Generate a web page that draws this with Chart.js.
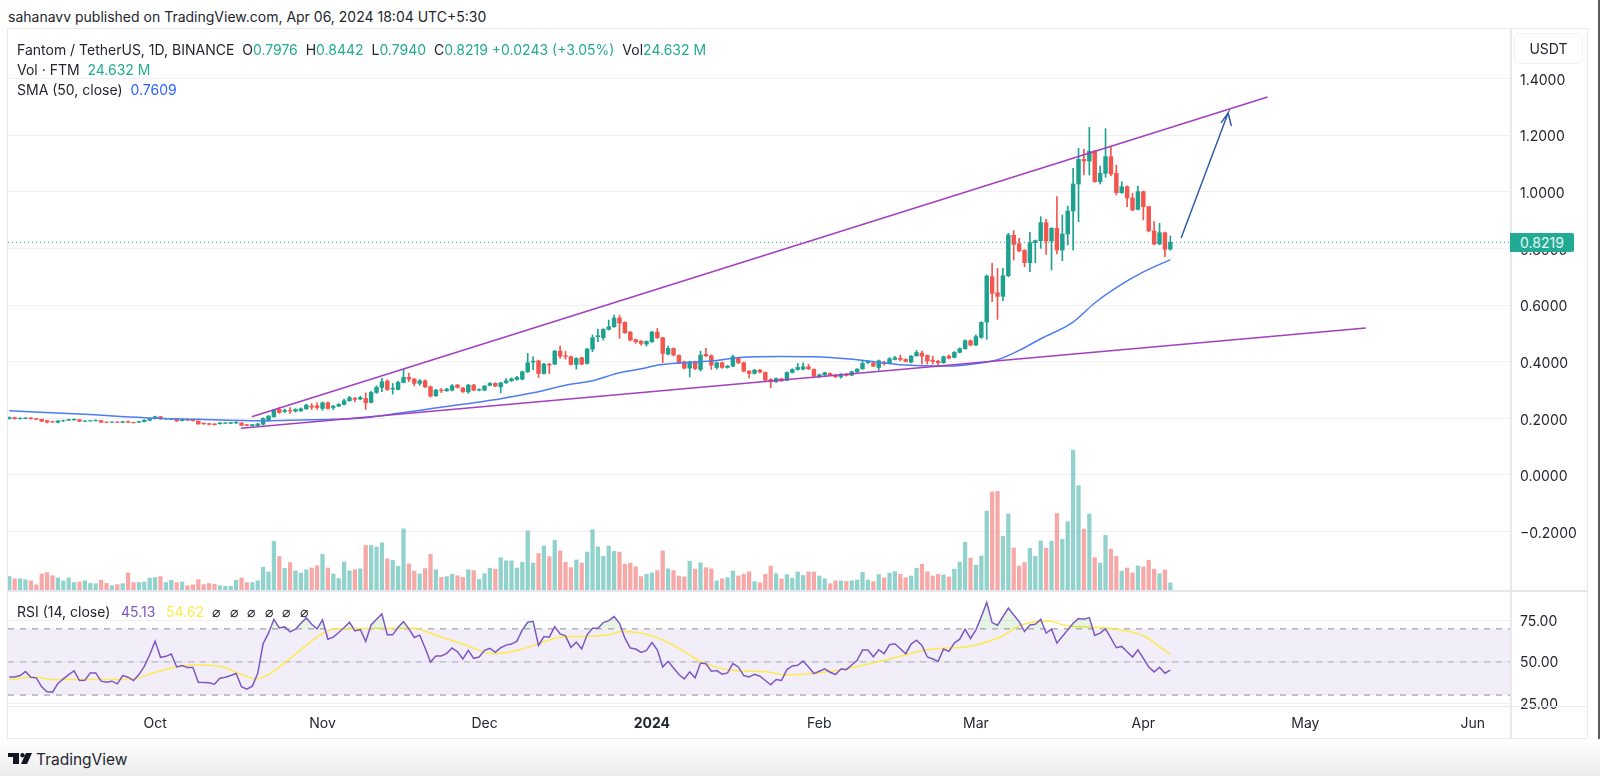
<!DOCTYPE html>
<html>
<head>
<meta charset="utf-8">
<title>Fantom / TetherUS</title>
<script src="https://cdn.jsdelivr.net/npm/chart.js@4/dist/chart.umd.min.js"></script>
<style>
    html, body { margin: 0; padding: 0; background: #fff; overflow: hidden; }
    body { width: 1600px; height: 776px; position: relative; font-family: Inter, sans-serif; color: #23262f; filter: blur(.35px); }
    canvas { position: absolute; left: 8px; }
    #priceChart { top: 28px; }
    #rsiChart { top: 590px; }
    .txt { position: absolute; white-space: nowrap; font-size: 14px; line-height: 20px; }
    .line { position: absolute; background: #e9e9ec; }
    .up { color: #22ab94; }
    #footer { position: absolute; left: 0; top: 739px; width: 1600px; height: 37px; background: linear-gradient(#fff, #ececec); }
    #tag { position: absolute; left: 1510px; top: 233px; width: 64px; height: 19px; line-height: 19px; background: #22ab94; color: #e8f7f4; font-size: 14px; text-align: center; border-radius: 0 2px 2px 0; }
    #usdt { position: absolute; left: 1514px; top: 33px; width: 67px; height: 29px; line-height: 29px; border: 1px solid #f0f0f3; border-radius: 6px; text-align: center; font-size: 14px; }
</style>
</head>
<body>
<div class="txt" style="left:8px;top:7px;">sahanavv published on TradingView.com, Apr 06, 2024 18:04 UTC+5:30</div>
<canvas id="priceChart" width="1579" height="562"></canvas>
<canvas id="rsiChart" width="1579" height="148"></canvas>

<div class="line" style="left:7px;top:28px;width:1580px;height:1px;"></div>
<div class="line" style="left:7px;top:28px;width:1px;height:710px;"></div>
<div class="line" style="left:1587px;top:28px;width:1px;height:710px;"></div>
<div class="line" style="left:7px;top:738px;width:1580px;height:1px;"></div>
<div class="line" style="left:1510px;top:28px;width:2px;height:710px;"></div>
<div class="line" style="left:8px;top:590px;width:1579px;height:2px;background:#e3e6ee;"></div>
<div class="line" style="left:8px;top:706px;width:1579px;height:1px;"></div>
<div class="line" style="left:1598px;top:0;width:2px;height:776px;background:#5a5a5a;"></div>

<div class="txt" style="left:17px;top:40px;">Fantom / TetherUS, 1D, BINANCE &nbsp;O<span class="up">0.7976</span> &nbsp;H<span class="up">0.8442</span> &nbsp;L<span class="up">0.7940</span> &nbsp;C<span class="up">0.8219</span> <span class="up">+0.0243 (+3.05%)</span> &nbsp;Vol<span class="up">24.632 M</span></div>
<div class="txt" style="left:17px;top:60px;">Vol · FTM &nbsp;<span class="up">24.632 M</span></div>
<div class="txt" style="left:17px;top:80px;">SMA (50, close) &nbsp;<span style="color:#2962ff;">0.7609</span></div>
<div class="txt" style="left:17px;top:602px;">RSI (14, close)</div>
<div class="txt" style="left:121px;top:602px;color:#7e57c2;">45.13</div>
<div class="txt" style="left:166px;top:602px;color:#ffe94f;">54.62</div>
<div class="txt" style="left:212px;top:602px;letter-spacing:9.6px;">⌀⌀⌀⌀⌀⌀</div>

<div id="usdt">USDT</div>
<div id="tag">0.8219</div>

<div id="footer"></div>
<svg style="position:absolute;left:8px;top:753px;" width="24" height="12" viewBox="0 0 24 12">
    <path d="M0 0H11V11H5V4H0Z" fill="#131722"/>
    <circle cx="14.5" cy="2.2" r="2.2" fill="#131722"/>
    <path d="M18 0H24L19 11H13Z" fill="#131722"/>
</svg>
<div class="txt" style="left:36px;top:750px;font-size:15.5px;">TradingView</div>

<script>
// Daily candles, index 0 is 2023-09-04, index 215 is 2024-04-06
const opens = [
    .1988,.2022,.1985,.1995,.2010,.1988,.1965,.1917,.1882,.1859,
    .1906,.1929,.1941,.1953,.1894,.1906,.1917,.1917,.1870,.1859,
    .1870,.1859,.1882,.1859,.1859,.1882,.1929,.1988,.2057,.1976,
    .1965,.1976,.1917,.1953,.1953,.1906,.1823,.1811,.1800,.1811,
    .1823,.1823,.1835,.1835,.1776,.1740,.1752,.1793,.1911,.2053,
    .2313,.2242,.2277,.2254,.2265,.2336,.243,.2442,.2348,.2549,
    .2383,.243,.249,.262,.2702,.2679,.2702,.256,.2914,.3091,
    .3316,.3032,.302,.3268,.3445,.3386,.3233,.3327,.3115,.2797,
    .2997,.2973,.2997,.3174,.3068,.2938,.3174,.2997,.2997,.3162,
    .3233,.3112,.3254,.3324,.3372,.3383,.3643,.3985,.4032,.3584,
    .3914,.3914,.4375,.421,.4174,.3903,.4139,.3938,.4445,.4882,
    .4847,.5142,.5236,.5543,.539,.5047,.4776,.4729,.4622,.4705,
    .5047,.4847,.4268,.4469,.4221,.3997,.3773,.3997,.3726,.4257,
    .421,.3796,.3962,.3796,.3844,.4139,.3962,.3667,.3584,.3702,
    .3619,.3372,.3289,.3395,.3348,.3619,.3726,.3737,.382,.3726,
    .349,.3537,.3584,.3525,.3466,.356,.3525,.3643,.3749,.3962,
    .3962,.3796,.3985,.3938,.408,.4127,.408,.3985,.421,.4304,
    .4221,.4056,.4021,.3962,.4198,.4153,.433,.4459,.4742,.4589,
    .486,.5402,.7004,.6438,.6309,.7039,.8465,.817,.7935,.7499,
    .8206,.8276,.8912,.8264,.8712,.7946,.8512,.9325,1.0279,1.1151,
    1.1092,1.1445,1.0361,1.0656,1.1245,1.0656,.9973,1.0185,.9784,.9384,
    1.0008,.9478,.8618,.8158,.8559,.7976
];
const closes = [
    .2022,.1985,.2000,.2010,.1988,.1965,.1894,.1859,.1870,.1906,
    .1917,.1953,.1965,.1894,.1906,.1917,.1929,.1859,.1859,.1870,
    .1859,.1882,.1859,.1847,.1882,.1929,.1988,.2057,.1976,.1988,
    .1976,.1906,.1953,.1929,.1917,.1800,.1800,.1788,.1776,.1835,
    .1835,.1847,.1859,.1752,.1752,.1776,.1800,.1994,.2077,.2289,
    .2206,.2277,.2254,.2313,.2336,.2466,.2395,.2383,.2549,.2348,
    .243,.249,.262,.2726,.2667,.2737,.2549,.2914,.3091,.3292,
    .302,.3056,.3268,.3445,.3386,.3233,.3327,.3115,.2785,.2997,
    .2973,.3032,.315,.3091,.2938,.3174,.2997,.302,.3139,.3233,
    .3139,.3254,.3324,.3395,.3442,.3643,.3962,.4021,.3584,.3914,
    .3879,.4375,.4198,.4186,.3903,.4115,.3914,.4445,.4847,.4917,
    .5142,.5236,.5543,.5366,.5024,.4764,.4705,.4646,.4717,.5047,
    .4847,.4292,.4469,.4233,.3962,.3773,.3997,.3761,.4233,.421,
    .3879,.3962,.3796,.3844,.4174,.3962,.3667,.3584,.3702,.3631,
    .3348,.3289,.3407,.3324,.3619,.3726,.3796,.382,.3749,.349,
    .3537,.3608,.3525,.3466,.356,.3513,.3643,.3737,.3938,.4009,
    .3844,.4032,.3938,.4103,.4139,.408,.4009,.4198,.4327,.4198,
    .4032,.4009,.3962,.4174,.4127,.433,.4459,.4742,.4589,.4884,
    .539,.7027,.6415,.6309,.7039,.8476,.8147,.7911,.7499,.8206,
    .8276,.8912,.8264,.8712,.7946,.8512,.9325,1.0279,1.1151,1.1092,
    1.1433,1.0361,1.0656,1.1245,1.0632,.9973,1.0185,.9784,.936,1.0008,
    .9478,.8618,.8158,.8559,.797,.8219
];
const highs = [
    .205,.204,.202,.203,.203,.199,.197,.192,.190,.192,
    .194,.197,.198,.196,.192,.193,.195,.192,.187,.188,
    .188,.190,.191,.186,.190,.195,.201,.208,.207,.200,
    .199,.198,.197,.196,.196,.191,.184,.182,.181,.185,
    .185,.186,.188,.185,.179,.178,.182,.202,.210,.232,
    .2383,.233,.238,.234,.237,.25,.252,.255,.258,.258,
    .246,.252,.268,.278,.274,.278,.29,.295,.315,.341,
    .336,.323,.331,.373,.359,.341,.337,.336,.314,.302,
    .306,.306,.319,.32,.309,.32,.32,.304,.316,.326,
    .326,.327,.34,.343,.348,.367,.4292,.4174,.406,.394,
    .394,.44,.4552,.4375,.42,.414,.416,.447,.4941,.5153,
    .517,.5472,.5649,.5649,.541,.507,.48,.475,.474,.507,
    .5177,.487,.4552,.449,.424,.402,.402,.402,.4375,.4469,
    .424,.399,.399,.387,.4233,.416,.399,.369,.373,.373,
    .364,.34,.343,.342,.364,.375,.3938,.3962,.3914,.375,
    .356,.363,.361,.355,.358,.358,.367,.376,.4032,.405,
    .399,.406,.401,.415,.419,.4233,.41,.422,.4398,.4375,
    .424,.4198,.404,.42,.424,.436,.449,.477,.477,.495,
    .541,.7063,.7475,.7298,.7298,.8535,.863,.8359,.796,.8571,
    .83,.9124,.903,.874,.9831,.9183,.9501,1.083,1.1539,1.1504,
    1.2281,1.147,1.0915,1.2234,1.1575,1.095,1.036,1.021,.9949,1.0208,
    1.003,.95,.8948,.8889,.858,.8442
];
const lows = [
    .197,.197,.197,.198,.197,.195,.188,.184,.185,.184,
    .189,.192,.193,.188,.188,.190,.190,.185,.184,.185,
    .185,.185,.185,.183,.185,.187,.192,.197,.196,.196,
    .195,.189,.191,.192,.190,.179,.179,.177,.176,.179,
    .181,.181,.182,.174,.173,.172,.174,.177,.190,.204,
    .217,.22,.217,.222,.224,.231,.231,.231,.228,.232,
    .231,.241,.247,.26,.2584,.265,.2313,.254,.288,.294,
    .298,.2855,.3,.325,.3292,.314,.316,.308,.275,.277,
    .291,.295,.297,.307,.291,.288,.297,.297,.297,.314,
    .312,.29,.323,.33,.335,.336,.362,.372,.3442,.356,
    .3584,.389,.4115,.4091,.388,.3737,.389,.391,.435,.4705,
    .4764,.512,.521,.4823,.5,.473,.4646,.4587,.4552,.468,
    .482,.3962,.424,.42,.393,.374,.3466,.372,.3667,.418,
    .3726,.3737,.3761,.377,.382,.393,.364,.3431,.356,.36,
    .332,.3077,.3265,.33,.332,.36,.37,.371,.372,.347,
    .3431,.351,.35,.344,.3419,.349,.35,.362,.373,.394,
    .382,.37,.388,.392,.406,.4032,.399,.396,.419,.3914,
    .3914,.3914,.3879,.394,.41,.413,.431,.444,.4553,.457,
    .4825,.479,.612,.5496,.6156,.70,.7593,.7888,.7357,.7181,
    .7499,.8005,.7793,.724,.7805,.7569,.8123,.7946,.8948,1.0597,
    1.0597,1.034,1.0279,1.0514,1.0573,.989,.995,.9478,.9336,.936,
    .9007,.859,.8123,.813,.771,.794
];
// Volume in millions of FTM
const volumes = [
    47,39,39,36,32,18,56,61,50,42,
    32,42,26,28,32,23,22,34,23,15,
    19,22,60,26,26,28,42,44,47,26,
    34,26,28,15,18,36,19,23,20,15,
    13,13,34,42,26,26,32,80,63,170,
    117,76,96,67,59,71,77,85,125,77,
    56,40,98,67,71,74,156,156,151,165,
    109,104,83,214,91,66,56,75,125,71,
    44,47,55,50,44,71,68,37,57,76,
    73,113,102,102,77,97,207,94,128,154,
    117,174,137,97,78,105,94,133,211,151,
    118,154,135,133,90,94,82,47,55,60,
    68,137,74,68,49,46,101,73,95,78,
    74,32,39,43,66,49,55,64,29,25,
    55,84,57,39,54,41,63,51,63,63,
    49,39,22,32,32,30,32,35,62,35,
    29,54,43,59,64,55,43,49,76,90,
    64,49,55,53,46,73,97,167,112,87,
    119,276,343,345,188,266,147,84,96,146,
    118,172,146,171,268,177,239,490,365,213,
    266,113,94,191,143,118,66,77,60,84,
    81,104,73,57,70,24.632
];
const rsiValues = [
    41.0,41.0,41.8,44.2,40.8,40.4,35.0,32.0,31.8,37.0,
    39.8,42.4,44.6,38.8,39.0,43.4,43.4,38.4,37.8,38.4,
    36.8,41.8,40.8,38.8,42.4,47.4,54.4,62.6,52.8,53.4,
    54.8,47.0,47.8,46.6,46.6,37.8,37.6,37.4,36.6,40.2,
    40.8,41.8,43.0,35.0,33.6,35.4,43.0,61.0,67.4,75.8,
    70.6,71.2,68.2,69.8,73.4,76.6,72.8,70.0,75.4,63.8,
    65.0,67.8,70.8,74.0,68.8,69.6,62.4,72.4,75.8,79.0,
    66.4,66.4,71.0,74.4,70.0,64.8,66.2,58.4,50.0,53.6,
    53.6,55.2,58.4,56.2,51.8,57.0,52.2,53.0,57.0,58.2,
    55.8,58.6,60.2,60.8,62.6,69.4,74.0,74.6,60.0,65.4,
    65.0,71.4,67.0,65.8,58.8,62.0,57.8,66.4,70.4,70.4,
    73.8,75.0,77.4,73.4,64.4,58.4,57.8,55.8,57.0,61.8,
    57.4,47.0,50.4,46.4,42.4,39.8,44.0,40.4,49.4,49.0,
    44.4,44.8,42.6,43.4,49.0,47.0,41.8,41.0,42.6,41.4,
    38.8,36.2,39.4,38.8,45.4,47.6,48.0,50.6,47.0,43.0,
    44.4,45.8,43.8,42.4,45.8,45.4,48.2,51.0,57.2,57.2,
    53.2,57.4,55.0,60.4,61.0,58.0,55.0,60.8,63.2,60.0,
    53.0,51.8,50.4,57.8,56.4,61.4,63.8,69.8,64.2,69.4,
    77.4,86.0,73.8,72.2,77.4,82.6,78.4,74.4,68.4,72.4,
    72.8,75.8,67.4,69.8,61.4,65.4,69.4,73.4,76.2,75.8,
    76.8,66.0,67.4,70.0,64.4,58.6,59.4,56.2,53.0,57.4,
    52.2,47.0,44.0,46.8,43.2,45.13
];

const smaDays = [0,14,25,35,47,54,60,66,72,78.5,91,97,103,108,112.5,117,120.5,124.8,131,135.3,143,149,155.6,160.6,165,174,180,183,187,191,197,201,205,210,215];
const smaValues = [.2269,.214,.2022,.1963,.1915,.1939,.1963,.2022,.2175,.2352,.2694,.29,.317,.3324,.3584,.3749,.3891,.3962,.4044,.415,.4186,.4174,.4091,.3985,.3891,.3844,.3954,.4068,.4398,.4811,.54,.6073,.6616,.7171,.7609];
const rsiMaDays = [0,4.7,8,11,17.4,20.6,24,26.3,30,34,39,43,45.5,48,52.5,57,60,68.4,74.8,79.3,84.4,89.5,94,98,102,106,111,113.4,119.4,124,128,133.8,140.6,143.6,149.7,155.7,162.5,170,178.4,183.7,187.5,192.4,195.7,203.3,210.3,212.9,215];
const rsiMaValues = [39.4,41,39.4,39.4,39.4,39.4,40.4,43,46.4,48.2,47.4,42.4,39.8,42.4,53.4,65,70,70.4,70.4,65.8,60.4,55,57,61,65,65.4,66.4,68.4,65.4,58.4,50.4,45,44,42.2,43.4,46.4,51.4,57.4,59.8,65.4,72.4,74.8,72,70.4,65.4,59.4,54.62];

// Drawn lines: [day, price] ends of the two trend lines, and the arrow
const upperTrend = [[44.9, .2057], [233, 1.335]];
const lowerTrend = [[42.9, .1647], [251.2, .519]];
const arrowPath = [[217, .837], [225.7, 1.279], [224.4, 1.244], [225.7, 1.279], [226.3, 1.233]];

const priceTicks = [1.4, 1.2, 1.0, 0.8, 0.6, 0.4, 0.2, 0, -0.2];
const rsiTicks = [75, 50, 25];
const rsiLevels = [70, 50, 30];
const tickDays = [27, 58, 88, 119, 150, 179, 210, 240, 271];
const tickLabels = ["Oct", "Nov", "Dec", "2024", "Feb", "Mar", "Apr", "May", "Jun"];

const UP = "#1ea18f";
const DOWN = "#f2564f";
const xMin = -0.24;
const xMax = 277.9;

Chart.defaults.font.family = "Inter, sans-serif";
Chart.defaults.font.size = 14;
Chart.defaults.color = "#23262f";
Chart.defaults.animation = false;

const pairs = (rows) => rows.map(r => ({ x: r[0], y: r[1] }));
const isUp = (i) => closes[i] >= opens[i];
const days = opens.map((_, i) => i);

function lineSet(data, color, width, order, extra) {
    return Object.assign({
        type: "line",
        data: data,
        borderColor: color,
        borderWidth: width,
        pointRadius: 0,
        order: order,
        yAxisID: "y"
    }, extra);
}

function barSet(data, colors, thickness, order, axis) {
    return {
        type: "bar",
        data: data,
        backgroundColor: colors,
        barThickness: thickness,
        grouped: false,
        order: order,
        yAxisID: axis
    };
}

function rightAxis(min, max, ticks, digits, nudge) {
    return {
        position: "right",
        min: min,
        max: max,
        afterBuildTicks: (axis) => { axis.ticks = ticks.map(v => ({ value: v })); },
        // ticks never sit on the pane edges, so no room is needed for half a label
        afterFit: (axis) => { axis.width = 77; axis.paddingTop = 0; axis.paddingBottom = 0; },
        border: { display: false },
        grid: { color: "#f0f0f2", drawTicks: false },
        ticks: {
            padding: 10,
            labelOffset: nudge,
            callback: (v) => (v < 0 ? "\u2212" : "") + Math.abs(v).toFixed(digits)
        }
    };
}

new Chart(document.getElementById("priceChart"), {
    type: "bar",
    data: {
        datasets: [
            barSet(days.map(i => ({ x: i, y: volumes[i] })), days.map(i => isUp(i) ? "rgba(38,166,154,.5)" : "rgba(239,83,80,.5)"), 3.6, 6, "vol"),
            barSet(days.map(i => ({ x: i, y: [lows[i], highs[i]] })), days.map(i => isUp(i) ? UP : DOWN), 1, 5, "y"),
            barSet(days.map(i => ({ x: i, y: [opens[i], closes[i]] })), days.map(i => isUp(i) ? UP : DOWN), 3.8, 4, "y"),
            lineSet([{ x: xMin, y: closes[215] }, { x: xMax, y: closes[215] }], UP, 1, 3, { borderDash: [1, 3] }),
            lineSet(smaDays.map((d, i) => ({ x: d, y: smaValues[i] })), "#4d7cf5", 1.5, 2, { cubicInterpolationMode: "monotone" }),
            lineSet(pairs(upperTrend), "#a43fc0", 1.5, 1),
            lineSet(pairs(lowerTrend), "#a43fc0", 1.5, 1),
            lineSet(pairs(arrowPath), "#2f5da8", 1.5, 0)
        ]
    },
    options: {
        responsive: false,
        layout: { padding: 0 },
        plugins: { legend: { display: false }, tooltip: { enabled: false } },
        scales: {
            x: { type: "linear", display: false, offset: false, min: xMin, max: xMax },
            y: rightAxis(-0.4067, 1.5791, priceTicks, 4, 2),
            vol: { display: false, min: 0, max: 1967 }
        }
    }
});

new Chart(document.getElementById("rsiChart"), {
    type: "line",
    data: {
        datasets: [
            lineSet(days.map(i => ({ x: i, y: rsiValues[i] })), "#7e57c2", 1.5, 0, {
                fill: { target: { value: rsiLevels[0] }, above: "rgba(76,175,80,.14)", below: "rgba(0,0,0,0)" }
            }),
            lineSet(rsiMaDays.map((d, i) => ({ x: d, y: rsiMaValues[i] })), "#ffe94f", 1.5, 1, { cubicInterpolationMode: "monotone" }),
            lineSet([{ x: xMin, y: rsiLevels[0] }, { x: xMax, y: rsiLevels[0] }], "#8c8f99", 1, 3, {
                borderDash: [6, 6],
                fill: { target: { value: rsiLevels[2] }, above: "rgba(126,87,194,.1)", below: "rgba(0,0,0,0)" }
            }),
            lineSet([{ x: xMin, y: rsiLevels[1] }, { x: xMax, y: rsiLevels[1] }], "#b4b6bd", 1, 3, { borderDash: [6, 6] }),
            lineSet([{ x: xMin, y: rsiLevels[2] }, { x: xMax, y: rsiLevels[2] }], "#8c8f99", 1, 3, { borderDash: [6, 6] })
        ]
    },
    options: {
        responsive: false,
        layout: { padding: 0 },
        plugins: { legend: { display: false }, tooltip: { enabled: false } },
        scales: {
            x: {
                type: "linear",
                offset: false,
                min: xMin,
                max: xMax,
                afterBuildTicks: (axis) => { axis.ticks = tickDays.map(v => ({ value: v })); },
                afterFit: (axis) => { axis.height = 32; axis.paddingLeft = 0; axis.paddingRight = 0; },
                border: { display: false },
                grid: { display: false, drawTicks: false },
                ticks: {
                    padding: 9,
                    autoSkip: false,
                    maxRotation: 0,
                    callback: (v) => tickLabels[tickDays.indexOf(v)],
                    font: (ctx) => ({ weight: ctx.tick && ctx.tick.value === tickDays[3] ? "bold" : "normal" })
                }
            },
            y: rightAxis(23.4, 93.5, rsiTicks, 2, 1)
        }
    }
});
</script>
</body>
</html>
